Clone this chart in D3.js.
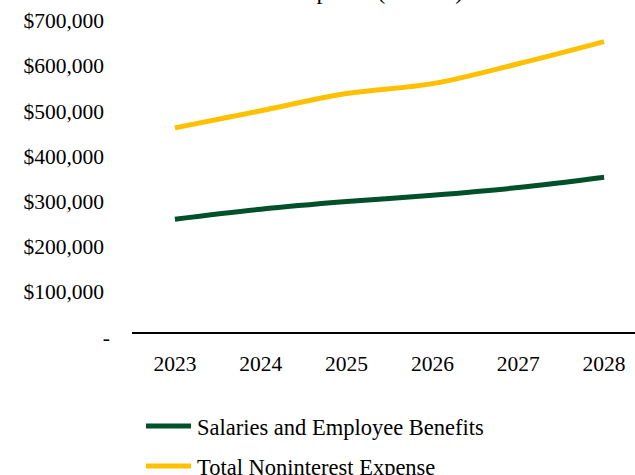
<!DOCTYPE html>
<html>
<head>
<meta charset="utf-8">
<script src="https://cdn.jsdelivr.net/npm/d3@7"></script>
<style>
  html, body { margin: 0; padding: 0; background: #fff; }
  svg { display: block; }
  text { font-family: "Liberation Serif", "Times New Roman", serif; fill: #000; }
</style>
</head>
<body>
<svg id="chart" width="635" height="475"></svg>
<script>
// Projected expense figures, in thousands of dollars
const years = ["2023", "2024", "2025", "2026", "2027", "2028"];
const salaries = [252000, 274000, 291000, 305000, 322000, 345000];
const totalNoninterest = [454000, 492000, 530000, 552000, 596000, 645000];
const yTicks = [0, 100000, 200000, 300000, 400000, 500000, 600000, 700000];
const seriesNames = ["Salaries and Employee Benefits", "Total Noninterest Expense"];
const seriesColors = ["#00502A", "#FFC000"];

const svg = d3.select("#chart");
const W = 635;

const x = d3.scaleBand().domain(years).range([132, 647]).padding(0);
const y = d3.scaleLinear().domain([0, 700000]).range([333, 16.8]);

// Title (sits partly above the visible area)
svg.append("text")
  .attr("x", W / 2)
  .attr("y", -1)
  .attr("text-anchor", "middle")
  .style("font-size", "24px")
  .text("Noninterest Expense (in 000s)");

// Value axis: labels only, accounting style with a dash for zero
const fmt = v => v === 0 ? "-" : "$" + d3.format(",")(v);
const yAxis = d3.axisLeft(y).tickValues(yTicks).tickFormat(fmt).tickSize(0).tickPadding(0);
const gy = svg.append("g").attr("transform", "translate(104,0)").call(yAxis);
gy.select(".domain").remove();
gy.selectAll("text")
  .attr("x", d => d === 0 ? 6 : 0)
  .attr("dy", null)
  .attr("y", 11)
  .attr("fill", "#000")
  .style("font-size", "21.5px")
  .style("font-family", "'Liberation Serif', 'Times New Roman', serif");

// Category axis
const xAxis = d3.axisBottom(x).tickSize(0).tickPadding(0);
const gx = svg.append("g").attr("transform", "translate(0,333)").call(xAxis);
gx.select(".domain").attr("stroke", "#000").attr("stroke-width", 2).attr("d", `M${x.range()[0]},0H${x.range()[1]}`);
gx.selectAll("text")
  .attr("y", 38)
  .attr("dy", null)
  .attr("fill", "#000")
  .style("font-size", "21.5px")
  .style("font-family", "'Liberation Serif', 'Times New Roman', serif");

// Smoothed series lines
const cx = d => x(d) + x.bandwidth() / 2;
const line = d3.line()
  .x((d, i) => cx(years[i]))
  .y(d => y(d))
  .curve(d3.curveCatmullRom.alpha(0.5));

[salaries, totalNoninterest].forEach((vals, i) => {
  svg.append("path")
    .datum(vals)
    .attr("d", line)
    .attr("fill", "none")
    .attr("stroke", seriesColors[i])
    .attr("stroke-width", 5);
});

// Legend
const legend = svg.append("g");
seriesNames.forEach((name, i) => {
  const ly = 426 + i * 40;
  legend.append("line")
    .attr("x1", 146).attr("x2", 191)
    .attr("y1", ly).attr("y2", ly)
    .attr("stroke", seriesColors[i])
    .attr("stroke-width", 5);
  legend.append("text")
    .attr("x", 197)
    .attr("y", ly + 9)
    .style("font-size", "22.5px")
    .text(name);
});
</script>
</body>
</html>
